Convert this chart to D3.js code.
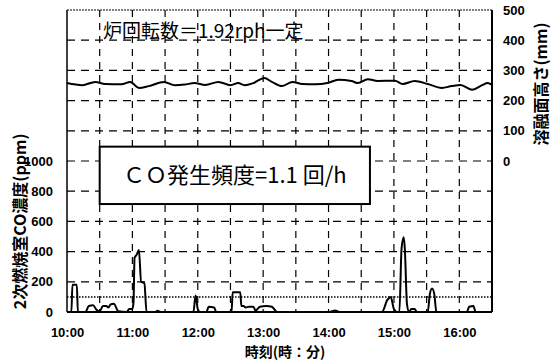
<!DOCTYPE html>
<html>
<head>
<meta charset="utf-8">
<script src="https://cdn.jsdelivr.net/npm/d3@7"></script>
<style>
  body { margin: 0; background: #fff; }
  .tick-label { font-family: "Liberation Sans", Arial, sans-serif; font-weight: bold; font-size: 13px; fill: #000; }
  .jp { font-family: "Noto Sans CJK JP", sans-serif; fill: #000; }
</style>
</head>
<body>
<div id="chart"></div>
<script>
// time axis labels (clock)
var xTickLabels = ["10:00", "11:00", "12:00", "13:00", "14:00", "15:00", "16:00"];
var xDomain = ["10:00", "16:30"];
var leftTicks = [0, 200, 400, 600, 800, 1000];
var rightTicks = [0, 100, 200, 300, 400, 500];
var coThreshold = 100;

// 2nd combustion chamber CO (ppm)
var coTimes = ["10:00", "10:04", "10:05", "10:09", "10:10", "10:17", "10:20", "10:24", "10:27", "10:30",
  "10:33", "10:36", "10:38", "10:40", "10:43", "10:47", "10:55", "10:57", "11:00", "11:01",
  "11:02", "11:04", "11:06", "11:08", "11:11", "11:13", "11:21", "11:23", "11:26", "11:56",
  "11:58", "12:00", "12:02", "12:08", "12:10", "12:15", "12:17", "12:31", "12:32", "12:39",
  "12:40", "12:42", "12:44", "12:47", "12:51", "12:53", "12:57", "13:03", "13:08", "13:13",
  "14:01", "14:06", "14:10", "14:49", "14:54", "14:57", "15:00", "15:03", "15:05", "15:07",
  "15:09", "15:10", "15:12", "15:14", "15:16", "15:19", "15:21", "15:31", "15:33", "15:35",
  "15:37", "15:39", "16:07", "16:09", "16:13", "16:15", "16:30"];
var coValues = [0, 0, 180, 180, 0, 0, 40, 45, 15, 5,
  40, 40, 30, 50, 55, 5, 0, 20, 20, 60,
  360, 380, 410, 200, 190, 0, 0, 8, 0, 0,
  110, 20, 0, 0, 35, 30, 0, 0, 130, 130,
  40, 40, 30, 35, 35, 10, 35, 40, 35, 0,
  0, 10, 0, 0, 80, 100, 20, 0, 0, 420,
  495, 420, 50, 0, 20, 20, 0, 0, 120, 155,
  120, 0, 0, 35, 40, 0, 0];

// melt surface height (mm)
var meltTimes = ["10:00", "10:14", "10:26", "10:35", "10:50", "10:58", "11:06", "11:15", "11:29", "11:39",
  "11:48", "11:57", "12:07", "12:19", "12:30", "12:37", "12:43", "12:51", "13:01", "13:08",
  "13:17", "13:27", "13:36", "13:48", "13:59", "14:09", "14:21", "14:27", "14:36", "14:45",
  "15:01", "15:08", "15:19", "15:31", "15:44", "15:53", "16:01", "16:12", "16:21", "16:26", "16:30"];
var meltValues = [258, 251, 262, 255, 254, 262, 242, 248, 262, 251,
  253, 258, 252, 262, 251, 258, 251, 258, 275, 262,
  248, 262, 255, 254, 258, 269, 265, 258, 271, 265,
  266, 255, 265, 255, 242, 248, 252, 236, 251, 258, 252];

var parseTime = d3.timeParse("%H:%M");

var margin = {top: 10, right: 66, bottom: 48, left: 67},
  width = 558 - margin.left - margin.right,
  height = 360 - margin.top - margin.bottom;

var svg = d3.select("#chart").append("svg")
  .attr("width", 558)
  .attr("height", 360)
  .append("g")
  .attr("transform", "translate(" + margin.left + "," + margin.top + ")");

var x = d3.scaleTime()
  .domain(xDomain.map(parseTime))
  .range([0, width]);

// CO scale uses the lower half, melt height the upper half
var yLeft = d3.scaleLinear().domain([0, 2000]).range([height, 0]);
var yRight = d3.scaleLinear().domain([-500, 500]).range([height, 0]);

// grid
var vGrid = d3.timeMinute.every(30).range(x.domain()[0], x.domain()[1]).slice(1);
svg.selectAll(".vgrid")
  .data(vGrid)
  .enter().append("line")
  .attr("x1", function (d) { return x(d); })
  .attr("x2", function (d) { return x(d); })
  .attr("y1", 0)
  .attr("y2", height)
  .attr("stroke", "#000")
  .attr("stroke-width", 1.2)
  .attr("stroke-dasharray", "7,6");

svg.selectAll(".hgrid")
  .data(d3.range(-400, 500, 100))
  .enter().append("line")
  .attr("x1", 0)
  .attr("x2", width)
  .attr("y1", function (d) { return yRight(d); })
  .attr("y2", function (d) { return yRight(d); })
  .attr("stroke", "#000")
  .attr("stroke-width", 1.2)
  .attr("stroke-dasharray", "8,6");

// threshold
svg.append("line")
  .attr("x1", 0)
  .attr("x2", width)
  .attr("y1", yLeft(coThreshold))
  .attr("y2", yLeft(coThreshold))
  .attr("stroke", "#000")
  .attr("stroke-width", 1.5)
  .attr("stroke-dasharray", "1.5,1.5");

// frame
svg.append("line").attr("x1", 0).attr("x2", width).attr("y1", 0).attr("y2", 0)
  .attr("stroke", "#000").attr("stroke-width", 1).attr("stroke-dasharray", "2,1");
svg.append("line").attr("x1", 0).attr("x2", 0).attr("y1", 0).attr("y2", height)
  .attr("stroke", "#000").attr("stroke-width", 1.5);
svg.append("line").attr("x1", width).attr("x2", width).attr("y1", 0).attr("y2", height)
  .attr("stroke", "#000").attr("stroke-width", 2);
svg.append("line").attr("x1", 0).attr("x2", width).attr("y1", height).attr("y2", height)
  .attr("stroke", "#000").attr("stroke-width", 2);

// series
var coData = coTimes.map(function (t, i) { return {t: parseTime(t), v: coValues[i]}; });
var meltData = meltTimes.map(function (t, i) { return {t: parseTime(t), v: meltValues[i]}; });

svg.append("path")
  .datum(meltData)
  .attr("fill", "none")
  .attr("stroke", "#000")
  .attr("stroke-width", 2)
  .attr("d", d3.line()
    .x(function (d) { return x(d.t); })
    .y(function (d) { return yRight(d.v); })
    .curve(d3.curveMonotoneX));

svg.append("path")
  .datum(coData)
  .attr("fill", "none")
  .attr("stroke", "#000")
  .attr("stroke-width", 2)
  .attr("d", d3.line()
    .x(function (d) { return x(d.t); })
    .y(function (d) { return yLeft(d.v); })
    .curve(d3.curveMonotoneX));

// axes (labels only)
var xAxis = svg.append("g")
  .attr("transform", "translate(0," + height + ")")
  .call(d3.axisBottom(x).tickValues(xTickLabels.map(parseTime)).tickSize(0).tickPadding(16)
    .tickFormat(d3.timeFormat("%H:%M")));
xAxis.select(".domain").remove();
xAxis.selectAll("text").attr("class", "tick-label").attr("dy", "0.71em");

var lAxis = svg.append("g")
  .call(d3.axisLeft(yLeft).tickValues(leftTicks).tickSize(0).tickPadding(14).tickFormat(d3.format("d")));
lAxis.select(".domain").remove();
lAxis.selectAll("text").attr("class", "tick-label");

var rAxis = svg.append("g")
  .attr("transform", "translate(" + width + ",0)")
  .call(d3.axisRight(yRight).tickValues(rightTicks).tickSize(0).tickPadding(11).tickFormat(d3.format("d")));
rAxis.select(".domain").remove();
rAxis.selectAll("text").attr("class", "tick-label");

// annotations
svg.append("text")
  .attr("class", "jp")
  .attr("x", x(parseTime("10:33")))
  .attr("y", yRight(430))
  .attr("dy", "0.35em")
  .style("font-size", "19px")
  .text("炉回転数＝1.92rph一定");

var bx0 = x(parseTime("10:30")), bx1 = x(parseTime("14:38")),
  by0 = yLeft(1095), by1 = yLeft(715);
svg.append("rect")
  .attr("x", bx0)
  .attr("y", by0)
  .attr("width", bx1 - bx0)
  .attr("height", by1 - by0)
  .attr("fill", "#fff")
  .attr("stroke", "#000")
  .attr("stroke-width", 2);

svg.append("text")
  .attr("class", "jp")
  .attr("x", (bx0 + bx1) / 2)
  .attr("y", (by0 + by1) / 2)
  .attr("dy", "0.36em")
  .attr("text-anchor", "middle")
  .style("font-size", "22px")
  .text("ＣＯ発生頻度=1.1 回/h");

// axis titles
svg.append("text")
  .attr("class", "jp")
  .attr("transform", "translate(" + (-47) + "," + yLeft(600) + ") rotate(-90)")
  .attr("text-anchor", "middle")
  .attr("dy", "0.35em")
  .style("font-size", "16px")
  .style("font-weight", "bold")
  .text("2次燃焼室CO濃度(ppm)");

svg.append("text")
  .attr("class", "jp")
  .attr("transform", "translate(" + (width + 49) + "," + yRight(255) + ") rotate(-90)")
  .attr("text-anchor", "middle")
  .attr("dy", "0.35em")
  .style("font-size", "16px")
  .style("font-weight", "bold")
  .text("溶融面高さ(mm)");

svg.append("text")
  .attr("class", "jp")
  .attr("x", x(parseTime("13:20")))
  .attr("y", height + 45)
  .attr("text-anchor", "middle")
  .style("font-size", "14px")
  .style("font-weight", "bold")
  .text("時刻(時：分)");
</script>
</body>
</html>
